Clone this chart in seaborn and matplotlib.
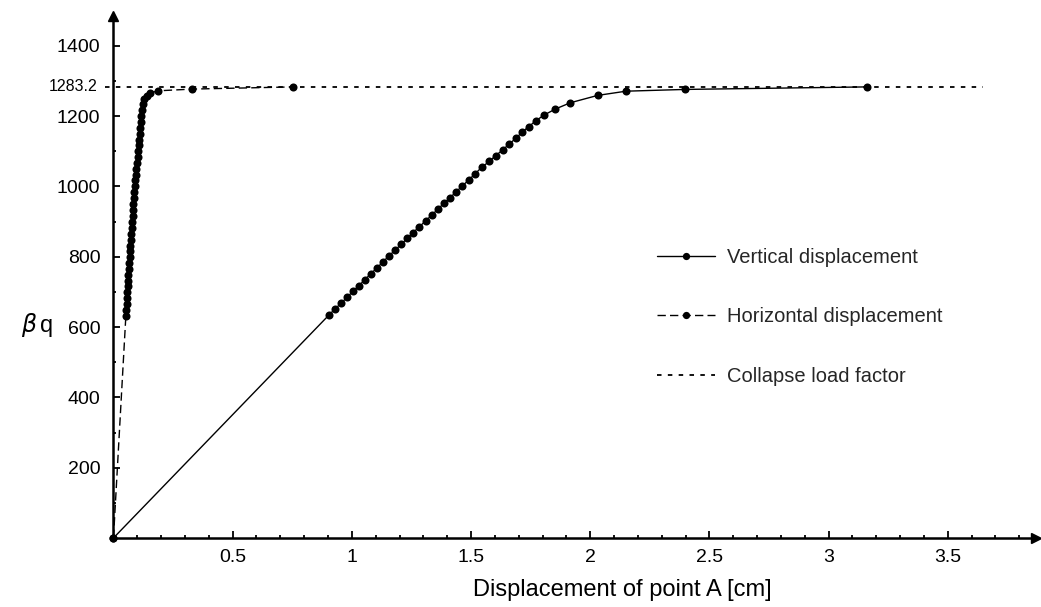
import numpy as np
import pandas as pd
import matplotlib
matplotlib.use('Agg')
import matplotlib.pyplot as plt
from matplotlib.ticker import MultipleLocator
import seaborn as sns

# valores (deslocamento em cm, fator de carga)
vert_x = [0.0, 0.905, 0.930, 0.955, 0.980, 1.005, 1.030, 1.055, 1.080, 1.105,
          1.130, 1.155, 1.180, 1.206, 1.232, 1.257, 1.283, 1.309, 1.335, 1.360,
          1.386, 1.412, 1.438, 1.464, 1.490, 1.517, 1.544, 1.576, 1.604, 1.633,
          1.659, 1.688, 1.715, 1.742, 1.772, 1.806, 1.853, 1.916, 2.031, 2.150,
          2.397, 3.159]
vert_y = [0, 635, 652, 668, 685, 702, 718, 735, 752, 768,
          785, 802, 818, 835, 852, 869, 885, 902, 918, 935,
          952, 968, 985, 1002, 1018, 1036, 1054, 1071, 1088, 1104,
          1120, 1137, 1155, 1170, 1187, 1203, 1220, 1238, 1259, 1271,
          1276, 1283.2]

horiz_x = [0.0, 0.052, 0.053, 0.055, 0.057, 0.058, 0.060, 0.061, 0.063, 0.065,
           0.066, 0.068, 0.070, 0.071, 0.073, 0.075, 0.076, 0.078, 0.080, 0.081,
           0.083, 0.085, 0.087, 0.089, 0.092, 0.094, 0.096, 0.099, 0.101, 0.103,
           0.106, 0.108, 0.110, 0.112, 0.114, 0.117, 0.120, 0.124, 0.130, 0.140,
           0.152, 0.185, 0.331, 0.754]
horiz_y = [0, 632, 649, 666, 682, 699, 716, 732, 749, 766,
           782, 799, 816, 832, 849, 866, 882, 899, 916, 932,
           949, 966, 983, 1000, 1017, 1033, 1050, 1066, 1083, 1100,
           1117, 1133, 1150, 1166, 1183, 1200, 1217, 1234, 1248, 1258,
           1265, 1272, 1277, 1283.2]

collapse_load = 1283.2
x_ticks = [0.5, 1, 1.5, 2, 2.5, 3, 3.5]
x_tick_labels = ['0.5', '1', '1.5', '2', '2.5', '3', '3.5']
y_ticks = [200, 400, 600, 800, 1000, 1200, 1400]

df_vert = pd.DataFrame({'x': vert_x, 'y': vert_y})
df_horiz = pd.DataFrame({'x': horiz_x, 'y': horiz_y})

sns.set_theme(style='ticks')
plt.rcParams['font.family'] = ['Liberation Sans', 'DejaVu Sans']
plt.rcParams['xtick.direction'] = 'in'
plt.rcParams['ytick.direction'] = 'in'

fig = plt.figure(figsize=(10.41, 6.07), dpi=100)
ax = fig.add_axes([0.1090, 0.1137, 0.8862, 0.8600])

sns.lineplot(data=df_vert, x='x', y='y', ax=ax, color='black', linewidth=1.0,
             marker='o', markersize=5.8, markeredgewidth=0, estimator=None,
             sort=False, clip_on=False, zorder=3, label='Vertical displacement')
sns.lineplot(data=df_horiz, x='x', y='y', ax=ax, color='black', linewidth=1.0,
             linestyle=(0, (6, 3)), marker='o', markersize=5.8, markeredgewidth=0,
             estimator=None, sort=False, clip_on=False, zorder=3,
             label='Horizontal displacement')
ax.plot([-0.036, 3.647], [collapse_load, collapse_load], color='black',
        linewidth=1.3, linestyle=(0, (2.5, 3.5)), clip_on=False,
        label='Collapse load factor')

ax.set_xlim(0, 3.870)
ax.set_ylim(0, 1485)

# eixos com setas
for s in ['top', 'right']:
    ax.spines[s].set_visible(False)
for s in ['left', 'bottom']:
    ax.spines[s].set_linewidth(1.8)
    ax.spines[s].set_color('black')
ax.plot(1, 0, '>', color='black', markersize=7, transform=ax.transAxes, clip_on=False)
ax.plot(0, 1, '^', color='black', markersize=7, transform=ax.transAxes, clip_on=False)

ax.set_xticks(x_ticks)
ax.set_xticklabels(x_tick_labels)
ax.set_yticks(y_ticks)
ax.xaxis.set_minor_locator(MultipleLocator(0.1))
ax.yaxis.set_minor_locator(MultipleLocator(100))
ax.tick_params(which='major', direction='in', length=5, width=1.3, colors='black',
               labelsize=14)
ax.tick_params(which='minor', direction='in', length=2.5, width=1.3, colors='black')
ax.tick_params(axis='y', which='both', pad=9.5)
ax.tick_params(axis='x', which='both', pad=8)

ax.text(-0.069, collapse_load, '1283.2', ha='right', va='center', fontsize=11.5,
        color='black', clip_on=False)

ax.set_xlabel('Displacement of point A [cm]', fontsize=17, color='black')
ax.xaxis.set_label_coords(0.552, -0.078)
ax.set_ylabel('')
ax.text(-0.083, 0.408, r'$\beta\,\mathregular{q}$', transform=ax.transAxes,
        ha='center', va='center', fontsize=17, color='black')

ax.legend(loc='upper left', bbox_to_anchor=(0.631, 0.5914),
          bbox_transform=fig.transFigure, frameon=False, fontsize=14.5,
          handlelength=2.9, handletextpad=0.6, labelspacing=2.0,
          borderpad=0, borderaxespad=0, markerscale=0.9)

fig.savefig('out.png', dpi=100)
